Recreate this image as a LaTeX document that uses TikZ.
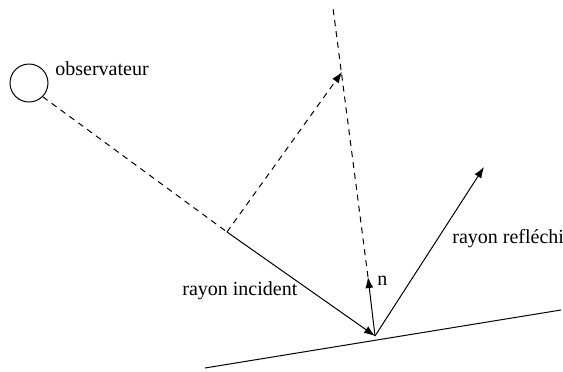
\documentclass[tikz,border=0pt]{standalone}
\usepackage{fontspec}
\setmainfont{Liberation Serif}
\newfontfamily\rayfont{Liberation Serif}
\usetikzlibrary{arrows.meta,positioning}

\begin{document}
\begin{tikzpicture}[
  x=0.5pt, y=-0.5pt,
  every node/.style={font=\rayfont},
  tag/.style={anchor=base west, inner sep=0pt},
  ray/.style={line width=0.5pt},
  trace/.style={ray, dash pattern=on 3pt off 2.5pt},
  >={Latex[length=5.5pt,width=4pt]}
]
\useasboundingbox (0,0) rectangle (563,371);

% Observer
\node[draw, circle, line width=0.5pt, minimum size=19pt, inner sep=0pt]
  (obs) at (29,83) {};
\node[tag] (obstext) at (55,75) {observateur};

% Points
\coordinate (hit) at (227,232);
\coordinate (pt) at (375,336);
\coordinate (tip) at (342,72);
\coordinate (nrm) at (368,277);
\coordinate (top) at (333,8);
\coordinate (refl) at (484,167);
\coordinate (s1) at (205,368);
\coordinate (s2) at (561,310);

% Surface
\draw[ray] (s1) -- (s2);

% Rays
\draw[trace] (obs.-45) -- (hit);
\draw[ray, ->] (hit) -- (pt);
\draw[trace, ->] (hit) -- (tip);
\draw[trace] (nrm) -- (top);
\draw[ray, ->] (pt) -- (nrm);
\draw[ray, ->] (pt) -- (refl);

% Labels
\node[tag] (inc) at (182,295) {rayon incident};
\node[tag] (n) at (377,285) {n};
\node[tag] (ref) at (452,243) {rayon refléchi};

\end{tikzpicture}
\end{document}
